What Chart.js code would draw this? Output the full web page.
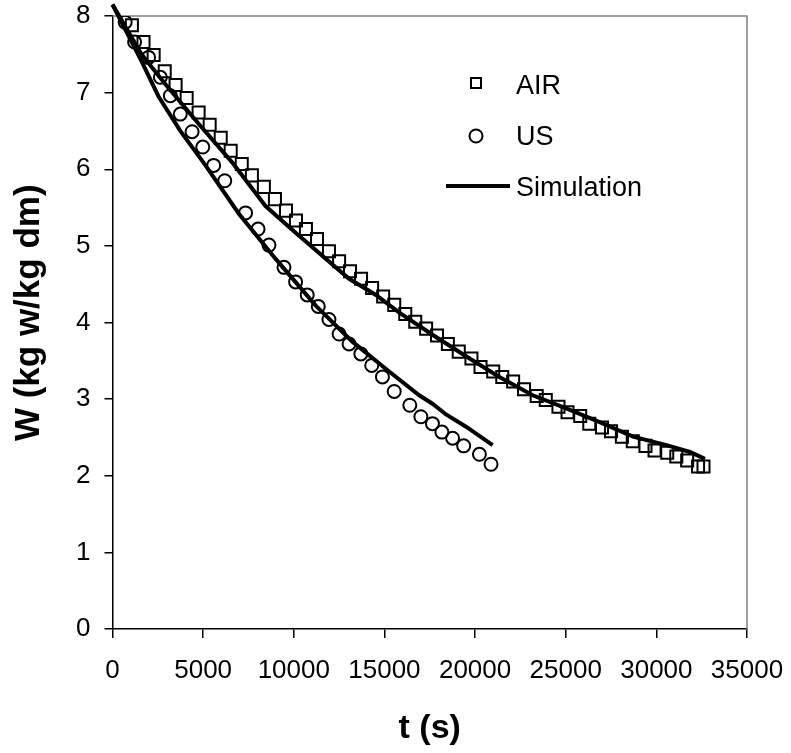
<!DOCTYPE html>
<html>
<head>
<meta charset="utf-8">
<script src="https://cdn.jsdelivr.net/npm/chart.js@4/dist/chart.umd.min.js"></script>
<style>
  html, body { margin: 0; padding: 0; background: #fff; }
</style>
</head>
<body>
<canvas id="dryingChart" width="791" height="753"></canvas>
<script>
// measured points, AIR drying
const airTime = [1070, 1710, 2270, 2880, 3480, 4090, 4750, 5360, 5970, 6520, 7130, 7690, 8350, 8960, 9570, 10120, 10670, 11280, 11940, 12500, 13100, 13710, 14320, 14930, 15540, 16150, 16700, 17300, 17900, 18500, 19100, 19800, 20300, 21000, 21500, 22100, 22700, 23400, 23900, 24600, 25100, 25800, 26300, 27000, 27500, 28100, 28700, 29400, 29900, 30600, 31100, 31700, 32300, 32600];
const airW = [7.88, 7.66, 7.49, 7.28, 7.10, 6.93, 6.74, 6.58, 6.41, 6.24, 6.07, 5.92, 5.77, 5.61, 5.46, 5.33, 5.22, 5.09, 4.93, 4.80, 4.67, 4.57, 4.45, 4.34, 4.23, 4.11, 4.01, 3.92, 3.83, 3.72, 3.62, 3.53, 3.42, 3.36, 3.29, 3.23, 3.13, 3.04, 2.99, 2.90, 2.83, 2.78, 2.68, 2.63, 2.58, 2.51, 2.45, 2.39, 2.33, 2.30, 2.25, 2.20, 2.12, 2.12];

// measured points, US (ultrasound) drying
const usTime = [700, 1220, 1990, 2640, 3190, 3740, 4390, 4980, 5580, 6190, 7340, 8030, 8630, 9460, 10100, 10740, 11350, 11940, 12500, 13050, 13700, 14300, 14890, 15540, 16400, 17010, 17650, 18170, 18760, 19370, 20240, 20880];
const usW = [7.92, 7.66, 7.46, 7.20, 6.96, 6.72, 6.49, 6.29, 6.05, 5.85, 5.43, 5.22, 5.01, 4.72, 4.53, 4.36, 4.21, 4.04, 3.85, 3.72, 3.59, 3.44, 3.29, 3.10, 2.92, 2.77, 2.68, 2.57, 2.49, 2.39, 2.28, 2.15];

// simulated curves
const simAirTime = [0, 1600, 2920, 4760, 6600, 8440, 10100, 13050, 14530, 15820, 17650, 19500, 21340, 23180, 25030, 26870, 28710, 30560, 31850, 32680];
const simAirW = [8.15, 7.50, 7.11, 6.59, 6.09, 5.52, 5.17, 4.57, 4.36, 4.13, 3.84, 3.56, 3.29, 3.05, 2.88, 2.70, 2.51, 2.40, 2.31, 2.22];
const simUsTime = [0, 1600, 2540, 3740, 5130, 6970, 9000, 11210, 13230, 15260, 16920, 17650, 18400, 19500, 20970];
const simUsW = [8.15, 7.41, 6.95, 6.50, 6.05, 5.42, 4.83, 4.22, 3.75, 3.36, 3.05, 2.94, 2.80, 2.64, 2.40];

const xTicks = [0, 5000, 10000, 15000, 20000, 25000, 30000, 35000];
const yTicks = [0, 1, 2, 3, 4, 5, 6, 7, 8];

const toPoints = (xs, ys) => xs.map((x, i) => ({ x: x, y: ys[i] }));

// chart area must not shrink for labels that stick out
const noPad = (scale) => {
    scale.paddingTop = 0;
    scale.paddingBottom = 0;
    scale.paddingLeft = 0;
    scale.paddingRight = 0;
};

// legend drawn inside the plot, like the original
const insideLegend = {
    id: 'insideLegend',
    afterDraw(chart) {
        const ctx = chart.ctx;
        ctx.save();
        ctx.strokeStyle = '#000';
        ctx.lineWidth = 2;
        ctx.strokeRect(471, 78, 10, 10);
        ctx.beginPath();
        ctx.arc(476, 136, 6.5, 0, Math.PI * 2);
        ctx.stroke();
        ctx.lineWidth = 4;
        ctx.beginPath();
        ctx.moveTo(446, 186);
        ctx.lineTo(510, 186);
        ctx.stroke();
        ctx.fillStyle = '#000';
        ctx.font = '27px "Liberation Sans", Arial, sans-serif';
        ctx.textBaseline = 'alphabetic';
        ctx.fillText('AIR', 516, 94);
        ctx.fillText('US', 516, 145);
        ctx.fillText('Simulation', 516, 196);
        ctx.restore();
    }
};

// gray top and right frame lines
const frame = {
    id: 'frame',
    beforeDatasetsDraw(chart) {
        const a = chart.chartArea;
        const ctx = chart.ctx;
        ctx.save();
        ctx.strokeStyle = '#808080';
        ctx.lineWidth = 1.5;
        ctx.beginPath();
        ctx.moveTo(a.left, a.top);
        ctx.lineTo(a.right, a.top);
        ctx.lineTo(a.right, a.bottom);
        ctx.stroke();
        ctx.restore();
    }
};

const ctx = document.getElementById('dryingChart').getContext('2d');
const chart = new Chart(ctx, {
    type: 'scatter',
    data: {
        datasets: [
            {
                label: 'AIR',
                data: toPoints(airTime, airW),
                pointStyle: 'rect',
                pointRadius: 8.5,
                borderColor: '#000',
                backgroundColor: 'rgba(0,0,0,0)',
                borderWidth: 2,
                order: 1
            },
            {
                label: 'US',
                data: toPoints(usTime, usW),
                pointStyle: 'circle',
                pointRadius: 6.5,
                borderColor: '#000',
                backgroundColor: 'rgba(0,0,0,0)',
                borderWidth: 2,
                order: 1
            },
            {
                label: 'Simulation',
                data: toPoints(simAirTime, simAirW),
                showLine: true,
                pointRadius: 0,
                borderColor: '#000',
                borderWidth: 4,
                tension: 0,
                clip: false,
                order: 0
            },
            {
                label: 'Simulation US',
                data: toPoints(simUsTime, simUsW),
                showLine: true,
                pointRadius: 0,
                borderColor: '#000',
                borderWidth: 4,
                tension: 0,
                clip: false,
                order: 0
            }
        ]
    },
    options: {
        responsive: false,
        animation: false,
        events: [],
        layout: {
            padding: { left: 0, right: 44, top: 16, bottom: 0 }
        },
        plugins: {
            legend: { display: false },
            tooltip: { enabled: false }
        },
        scales: {
            x: {
                type: 'linear',
                min: 0,
                max: 35000,
                afterBuildTicks: (scale) => {
                    scale.ticks = xTicks.map(v => ({ value: v }));
                },
                afterFit: (scale) => {
                    scale.height = 124;
                    noPad(scale);
                },
                grid: {
                    drawOnChartArea: false,
                    drawTicks: true,
                    tickLength: 9,
                    color: '#000',
                    lineWidth: 1.5
                },
                border: { color: '#000', width: 1.5 },
                ticks: {
                    color: '#000',
                    padding: 17,
                    maxRotation: 0,
                    callback: (v) => String(v),
                    font: { family: '"Liberation Sans", Arial, sans-serif', size: 26 }
                },
                title: {
                    display: true,
                    text: 't (s)',
                    color: '#000',
                    padding: { top: 0, bottom: 4 },
                    font: { family: '"Liberation Sans", Arial, sans-serif', size: 34, weight: 'bold' }
                }
            },
            y: {
                type: 'linear',
                min: 0,
                max: 8,
                afterBuildTicks: (scale) => {
                    scale.ticks = yTicks.map(v => ({ value: v }));
                },
                afterFit: (scale) => {
                    scale.width = 112.5;
                    noPad(scale);
                },
                grid: {
                    drawOnChartArea: false,
                    drawTicks: true,
                    tickLength: 8,
                    color: '#000',
                    lineWidth: 1.5
                },
                border: { color: '#000', width: 1.5 },
                ticks: {
                    color: '#000',
                    padding: 14,
                    callback: (v) => String(v),
                    font: { family: '"Liberation Sans", Arial, sans-serif', size: 26 }
                },
                title: {
                    display: true,
                    text: '  W (kg w/kg dm)',
                    color: '#000',
                    padding: { top: 8, bottom: 0 },
                    font: { family: '"Liberation Sans", Arial, sans-serif', size: 35, weight: 'bold' }
                }
            }
        }
    },
    plugins: [frame, insideLegend]
});
</script>
</body>
</html>
